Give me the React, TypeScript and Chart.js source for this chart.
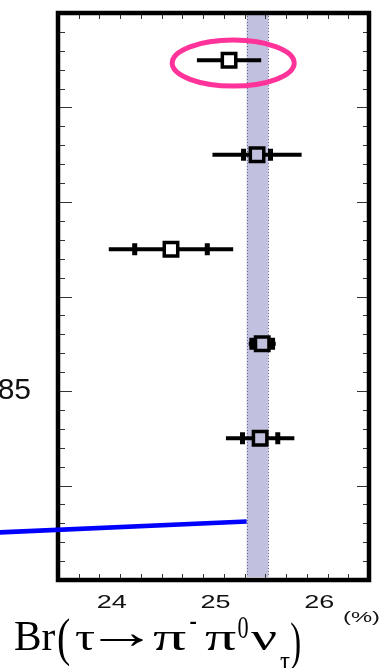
import React, { useEffect, useRef } from 'react';
import { Chart, registerables } from 'chart.js';

Chart.register(...registerables);

// Measurements, listed from the top row down
const rowPositions = [27.5, 22.5, 17.5, 12.5, 7.5];
const centralValues = [25.15, 25.42, 24.59, 25.47, 25.45];
const totalErrors = [0.31, 0.43, 0.6, 0.13, 0.33];
const statErrors: (number | null)[] = [null, 0.13, 0.35, 0.1, 0.17];

// Average band
const bandLow = 25.32;
const bandHigh = 25.53;

// Blue guide line (x, y pairs)
const guideX = [22.9, 25.32];
const guideY = [2.51, 3.1];

// Axis ranges and ticks
const xMin = 23.5;
const xMax = 26.5;
const yMin = 0;
const yMax = 30;
const xTickLabels = [24, 25, 26];
const xMinorStep = 0.2;
const yMinorStep = 1;
const yMajorStep = 5;

// Ring around the highlighted measurement
const ringCenter = { x: 25.19, y: 27.35 };

const sideNote = '85';

const BOX_RADIUS = 9.5; // rect point radius -> side = radius * sqrt(2)
const BOX_HALF = (BOX_RADIUS * Math.SQRT2) / 2;

const SANS = "'Liberation Sans', Arial, sans-serif";
const SERIF = "'Liberation Serif', 'Times New Roman', serif";

// Draws text so that its ink fills the box [x0, x1] x [y0, y1]
function fitBox(
  ctx: CanvasRenderingContext2D,
  text: string,
  x0: number,
  x1: number,
  y0: number,
  y1: number,
  font: string
) {
  ctx.save();
  ctx.font = font;
  ctx.textAlign = 'left';
  ctx.textBaseline = 'alphabetic';
  const m = ctx.measureText(text);
  const L = m.actualBoundingBoxLeft;
  const R = m.actualBoundingBoxRight;
  const A = m.actualBoundingBoxAscent;
  const D = m.actualBoundingBoxDescent;
  const w = L + R || 1;
  const h = A + D || 1;
  ctx.translate(x0, y0);
  ctx.scale((x1 - x0) / w, (y1 - y0) / h);
  ctx.fillText(text, L, A);
  ctx.restore();
}

function stretchedText(
  ctx: CanvasRenderingContext2D,
  text: string,
  x: number,
  baseline: number,
  font: string,
  sx: number,
  align: CanvasTextAlign
) {
  ctx.save();
  ctx.font = font;
  ctx.textAlign = align;
  ctx.textBaseline = 'alphabetic';
  ctx.translate(x, baseline);
  ctx.scale(sx, 1);
  ctx.fillText(text, 0, 0);
  ctx.restore();
}

// Band, frame, inward ticks and error bars go under the markers
const underlayPlugin = {
  id: 'underlay',
  beforeDatasetsDraw(chart: any) {
    const { ctx, chartArea } = chart;
    const xs = chart.scales.x;
    const ys = chart.scales.y;
    const { left, right, top, bottom } = chartArea;

    // band
    const bl = xs.getPixelForValue(bandLow);
    const bh = xs.getPixelForValue(bandHigh);
    ctx.save();
    ctx.fillStyle = '#c1c1df';
    ctx.fillRect(bl, top, bh - bl, bottom - top - 3);
    ctx.strokeStyle = '#6a6a8a';
    ctx.lineWidth = 1;
    ctx.setLineDash([1, 2]);
    for (const px of [bl, bh]) {
      ctx.beginPath();
      ctx.moveTo(Math.round(px) + 0.5, top);
      ctx.lineTo(Math.round(px) + 0.5, bottom - 3);
      ctx.stroke();
    }
    ctx.restore();

    // ticks
    ctx.save();
    ctx.strokeStyle = '#333';
    ctx.lineWidth = 1;
    const nx = Math.round((xMax - xMin) / xMinorStep);
    for (let k = 1; k < nx; k++) {
      const v = xMin + k * xMinorStep;
      const major = Math.abs(v - Math.round(v)) < 1e-6;
      const px = Math.round(xs.getPixelForValue(v)) + 0.5;
      const len = major ? 11 : 6;
      ctx.beginPath();
      ctx.moveTo(px, top);
      ctx.lineTo(px, top + len);
      ctx.moveTo(px, bottom);
      ctx.lineTo(px, bottom - len);
      ctx.stroke();
    }
    const ny = Math.round((yMax - yMin) / yMinorStep);
    for (let k = 1; k < ny; k++) {
      const v = yMin + k * yMinorStep;
      const major = v % yMajorStep === 0;
      const py = Math.round(ys.getPixelForValue(v)) + 0.5;
      ctx.beginPath();
      ctx.moveTo(left, py);
      ctx.lineTo(left + (major ? 14 : 7), py);
      ctx.moveTo(right, py);
      ctx.lineTo(right - (major ? 12 : 6), py);
      ctx.stroke();
    }
    ctx.restore();

    // frame
    ctx.save();
    ctx.strokeStyle = '#000';
    ctx.lineWidth = 4.5;
    ctx.strokeRect(left, top, right - left, bottom - top);
    ctx.restore();

    // error bars, split around the hollow markers
    ctx.save();
    ctx.strokeStyle = '#000';
    ctx.lineWidth = 4;
    centralValues.forEach((c, i) => {
      const py = ys.getPixelForValue(rowPositions[i]);
      const pc = xs.getPixelForValue(c);
      const plo = xs.getPixelForValue(c - totalErrors[i]);
      const phi = xs.getPixelForValue(c + totalErrors[i]);
      ctx.beginPath();
      ctx.moveTo(plo, py);
      ctx.lineTo(pc - BOX_HALF, py);
      ctx.moveTo(pc + BOX_HALF, py);
      ctx.lineTo(phi, py);
      ctx.stroke();
    });
    ctx.restore();
  },
};

// Ring, axis labels and title drawn on top
const overlayPlugin = {
  id: 'overlay',
  afterDraw(chart: any) {
    const { ctx, chartArea } = chart;
    const xs = chart.scales.x;
    const ys = chart.scales.y;

    // ring
    ctx.save();
    ctx.strokeStyle = '#ff3399';
    ctx.lineWidth = 5;
    ctx.beginPath();
    ctx.ellipse(
      xs.getPixelForValue(ringCenter.x),
      ys.getPixelForValue(ringCenter.y),
      61,
      23,
      0,
      0,
      Math.PI * 2
    );
    ctx.stroke();
    ctx.restore();

    ctx.save();
    ctx.fillStyle = '#111';
    // x tick labels
    for (const v of xTickLabels) {
      stretchedText(ctx, String(v), xs.getPixelForValue(v) + 2, chartArea.bottom + 28, `18px ${SANS}`, 1.5, 'center');
    }
    // unit
    stretchedText(ctx, '(%)', 343, 622, `14px ${SANS}`, 1.7, 'left');
    // side note
    ctx.font = `30px ${SANS}`;
    ctx.textAlign = 'right';
    ctx.textBaseline = 'alphabetic';
    ctx.fillText(sideNote, 31, 399);

    // axis title: Br(τ → π⁻π⁰ν_τ)
    ctx.fillStyle = '#000';
    const f = `40px ${SERIF}`;
    fitBox(ctx, 'Br', 15, 55, 622, 650, f);
    fitBox(ctx, '(', 58, 70, 618, 667, f);
    fitBox(ctx, 'τ', 75, 95, 632, 650, f);
    fitBox(ctx, '→', 100, 143, 634, 646, f);
    fitBox(ctx, 'π', 153, 186, 632, 650, f);
    fitBox(ctx, '-', 190, 196, 621, 624, f);
    fitBox(ctx, 'π', 205, 236, 632, 650, f);
    fitBox(ctx, '0', 238, 248, 618, 638, f);
    fitBox(ctx, 'ν', 251, 277, 632, 650, f);
    fitBox(ctx, 'τ', 280, 290, 657, 672, f);
    fitBox(ctx, ')', 291, 300, 622, 671, f);
    ctx.restore();
  },
};

export default function App() {
  const canvasRef = useRef<HTMLCanvasElement | null>(null);

  useEffect(() => {
    const canvas = canvasRef.current;
    if (!canvas) return;

    const boxes = centralValues.map((c, i) => ({ x: c, y: rowPositions[i] }));
    const caps: { x: number; y: number }[] = [];
    centralValues.forEach((c, i) => {
      const s = statErrors[i];
      if (s != null) {
        caps.push({ x: c - s, y: rowPositions[i] });
        caps.push({ x: c + s, y: rowPositions[i] });
      }
    });
    const guide = guideX.map((x, i) => ({ x, y: guideY[i] }));

    const chart = new Chart(canvas, {
      type: 'scatter',
      data: {
        datasets: [
          {
            label: 'measurements',
            data: boxes,
            pointStyle: 'rect',
            pointRadius: BOX_RADIUS,
            pointHoverRadius: BOX_RADIUS,
            borderWidth: 3.5,
            borderColor: '#000',
            backgroundColor: 'rgba(0,0,0,0)',
            order: 0,
          },
          {
            label: 'stat',
            data: caps,
            pointStyle: 'line',
            rotation: 90,
            pointRadius: 6,
            pointHoverRadius: 6,
            borderWidth: 5,
            borderColor: '#000',
            order: 1,
          },
          {
            type: 'line',
            label: 'guide',
            data: guide,
            borderColor: '#0000ff',
            borderWidth: 4.5,
            pointRadius: 0,
            showLine: true,
            clip: false,
            order: 2,
          } as any,
        ],
      },
      options: {
        responsive: false,
        animation: false,
        events: [],
        layout: { padding: { left: 58, right: 11, top: 9, bottom: 88 } },
        scales: {
          x: { type: 'linear', min: xMin, max: xMax, display: false },
          y: { type: 'linear', min: yMin, max: yMax, display: false },
        },
        plugins: {
          legend: { display: false },
          tooltip: { enabled: false },
        },
      },
      plugins: [underlayPlugin, overlayPlugin],
    });

    return () => chart.destroy();
  }, []);

  return (
    <div style={{ position: 'fixed', left: 0, top: 0, width: 382, height: 668, background: '#fff' }}>
      <canvas ref={canvasRef} width={382} height={668} style={{ display: 'block' }} />
    </div>
  );
}
